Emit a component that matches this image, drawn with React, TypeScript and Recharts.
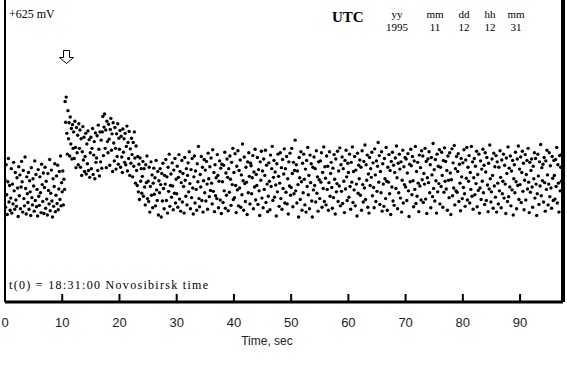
import React from 'react';
import { ScatterChart, Scatter, XAxis, YAxis, ReferenceLine } from 'recharts';

// sampling: 10 readings per second starting at t = 0
const STEP = 0.1;
const T_MAX = 97.5;
const V_TOP = 625;
const X_TICKS = [0, 10, 20, 30, 40, 50, 60, 70, 80, 90];

// signal, mV
const preEvent = [
  253,196,284,222,181,249,297,207,241,190,
  215,276,184,244,203,289,230,192,268,211,
  198,257,236,177,280,220,263,193,238,291,
  249,186,272,214,199,300,235,182,259,224,
  206,268,192,251,228,179,278,216,201,255,
  240,188,292,210,264,197,233,178,274,219,
  200,259,226,185,285,243,208,267,183,237,
  279,194,250,213,180,266,231,203,295,189,
  225,273,209,176,255,198,239,286,187,221,
  261,204,283,191,234,270,212,302,199,247,
];

const event = [
  228,271,201,254,233,415,372,424,349,306,
  396,338,371,302,383,327,359,296,367,318,
  352,297,374,320,278,361,309,345,284,369,
  318,356,279,338,262,311,363,294,341,270,
  301,349,265,327,286,354,272,336,258,309,
  341,276,318,359,264,304,332,255,350,289,
  298,344,272,366,316,261,352,290,335,277,
  352,384,303,362,389,318,356,278,374,332,
  309,368,337,283,357,380,314,348,270,371,
  329,292,361,318,275,348,301,369,285,339,
  316,355,279,343,300,268,358,310,338,289,
  349,284,322,364,271,330,297,353,262,317,
  287,339,305,259,330,281,352,298,246,323,
  272,241,301,228,285,212,298,250,276,225,
  260,291,219,276,238,201,284,247,302,214,
  250,208,279,186,239,290,221,263,195,246,
  277,223,257,199,293,232,210,270,180,251,
  226,276,243,176,266,209,287,235,193,262,
  244,295,210,259,184,279,229,306,198,241,
  265,217,288,240,191,273,225,297,205,254,
];

const postEvent = [
  224,281,196,258,305,213,270,188,247,293,
  207,266,239,184,299,252,219,276,201,262,
  288,228,311,245,193,274,216,297,236,182,
  259,302,205,271,233,190,286,249,322,214,
  197,264,238,301,210,279,186,251,295,226,
  273,209,291,244,192,308,255,218,280,231,
  298,246,203,315,229,268,187,284,220,257,
  214,305,262,195,250,292,211,277,183,285,
  249,206,283,230,310,194,267,221,296,258,
  189,276,227,302,254,200,289,243,318,212,
  268,216,307,241,185,281,232,313,199,272,
  236,294,196,263,222,327,251,190,300,245,
  208,279,248,181,290,226,309,260,203,287,
  282,224,257,303,193,269,238,316,211,264,
  241,299,202,274,230,179,290,252,312,215,
  271,195,296,233,262,314,206,283,244,187,
  219,288,250,191,304,239,276,322,210,258,
  293,217,269,242,178,286,228,306,260,198,
  246,309,214,278,192,295,235,265,317,205,
  276,227,301,203,255,182,290,240,308,221,
  237,318,266,197,289,224,272,335,230,284,
  205,271,243,176,299,257,212,311,249,190,
  287,226,306,254,201,275,186,293,239,320,
  222,262,193,304,247,286,209,176,279,232,
  300,241,276,207,313,225,259,188,290,253,
  214,292,248,309,196,268,235,321,208,280,
  256,201,302,233,281,190,247,311,219,266,
  289,237,194,277,216,305,254,182,296,228,
  245,312,208,271,240,319,199,284,229,300,
  204,276,250,185,293,234,314,259,210,287,
  268,217,306,239,192,289,248,321,206,270,
  232,301,199,273,244,178,308,225,283,255,
  294,221,279,190,313,243,207,291,236,325,
  212,284,252,304,196,265,184,299,241,276,
  258,310,220,288,237,195,317,263,208,292,
  229,281,330,248,303,202,270,226,311,188,
  286,244,198,297,255,214,320,250,190,279,
  248,305,224,272,181,291,238,310,209,283,
  200,268,298,235,323,257,193,287,226,306,
  275,215,290,186,252,314,205,280,243,299,
  238,296,210,267,307,230,177,285,249,316,
  282,222,301,251,197,292,233,322,204,270,
  219,289,246,187,304,240,278,211,313,253,
  302,206,266,244,318,213,291,183,257,296,
  247,311,226,284,195,299,263,218,328,235,
  274,209,295,251,184,306,228,281,245,315,
  203,279,239,310,262,196,293,227,319,250,
  291,234,272,190,302,252,216,309,267,181,
  253,317,220,288,236,324,201,276,230,301,
  227,270,307,208,285,246,189,297,259,214,
  288,237,315,224,198,294,256,320,211,279,
  250,303,205,268,233,322,219,290,192,257,
  297,222,281,245,312,197,264,231,306,184,
  236,292,212,275,250,316,226,283,202,309,
  269,210,299,242,187,287,234,325,255,207,
  228,296,262,194,308,240,280,217,303,186,
  290,246,203,279,230,313,258,195,294,224,
  250,306,215,283,244,183,298,266,208,321,
  218,277,238,302,199,271,232,293,180,255,
  284,226,310,249,193,296,241,323,212,275,
  243,300,206,268,312,229,287,191,252,305,
  211,264,293,234,318,248,185,289,227,272,
  296,238,196,281,255,309,215,297,244,179,
  224,306,261,202,290,240,326,220,278,251,
  285,207,299,247,188,292,233,314,263,201,
  244,309,218,282,236,194,301,256,210,293,
  262,213,295,239,320,205,284,246,186,303,
  230,279,250,306,
];

const signal = [...preEvent, ...event, ...postEvent];
const points = signal.map((v, i) => ({ t: +(i * STEP).toFixed(1), v }));

const UTC_COLS = [
  { head: 'yy', val: '1995', x: 397 },
  { head: 'mm', val: '11', x: 435 },
  { head: 'dd', val: '12', x: 464 },
  { head: 'hh', val: '12', x: 490 },
  { head: 'mm', val: '31', x: 516 },
];

const SERIF = '"Liberation Serif", "Times New Roman", serif';
const SANS = '"Liberation Sans", Arial, sans-serif';

function Dot(props: any) {
  const { cx, cy } = props;
  if (cx == null || cy == null) return null;
  return <circle cx={cx} cy={cy} r={1.7} fill="#000" />;
}

function TimeTick(props: any) {
  const { x, y, payload } = props;
  return (
    <g>
      {payload.value > 0 && <line x1={x} x2={x} y1={y} y2={y - 8} stroke="#000" strokeWidth={2} />}
      <text x={x} y={y + 25} textAnchor="middle" fontFamily={SANS} fontSize={13} fill="#222">
        {payload.value}
      </text>
    </g>
  );
}

export default function App() {
  return (
    <div style={{ position: 'absolute', left: 0, top: 0, width: 567, height: 383, background: '#fff' }}>
      <ScatterChart width={567} height={383} margin={{ top: 0, right: 4, bottom: 31, left: 5 }}>
        <XAxis
          type="number"
          dataKey="t"
          domain={[0, T_MAX]}
          ticks={X_TICKS}
          allowDataOverflow
          height={50}
          tickSize={0}
          tickMargin={0}
          tickLine={false}
          axisLine={{ stroke: '#000', strokeWidth: 3 }}
          tick={<TimeTick />}
        />
        <YAxis type="number" dataKey="v" domain={[0, V_TOP]} hide />
        <ReferenceLine x={0} stroke="#000" strokeWidth={2} />
        <ReferenceLine x={T_MAX} stroke="#000" strokeWidth={4} />
        <Scatter data={points} shape={<Dot />} isAnimationActive={false} />
      </ScatterChart>

      <svg width={567} height={383} style={{ position: 'absolute', left: 0, top: 0, pointerEvents: 'none' }}>
        <text x={9} y={18} fontFamily={SERIF} fontSize={12}>+625 mV</text>
        <path d="M63.5,50.5 h6 v7 h4 l-7,6 l-7,-6 h4 z" fill="#fff" stroke="#000" strokeWidth={1} />
        <text x={332} y={22} fontFamily={SERIF} fontSize={15} fontWeight="bold">UTC</text>
        {UTC_COLS.map((c, i) => (
          <g key={i}>
            <text x={c.x} y={18} textAnchor="middle" fontFamily={SERIF} fontSize={11}>{c.head}</text>
            <text x={c.x} y={31} textAnchor="middle" fontFamily={SERIF} fontSize={11}>{c.val}</text>
          </g>
        ))}
        <text x={9} y={289} fontFamily={SERIF} fontSize={12} letterSpacing={1.3}>t(0) = 18:31:00 Novosibirsk time</text>
        <text x={267} y={345} textAnchor="middle" fontFamily={SANS} fontSize={12} fill="#222">Time, sec</text>
      </svg>
    </div>
  );
}
